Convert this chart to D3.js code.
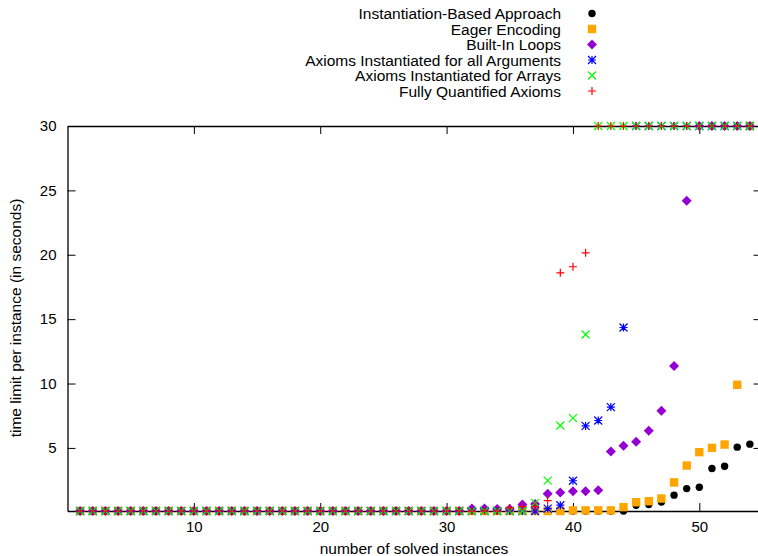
<!DOCTYPE html>
<html>
<head>
<meta charset="utf-8">
<script src="https://cdn.jsdelivr.net/npm/d3@7"></script>
<style>
  body { margin: 0; background: #fff; }
  text { font-family: "Liberation Sans", Arial, sans-serif; }
</style>
</head>
<body>
<script>
// number of solved instances (x) -> time limit per instance (y, seconds)
const instances = d3.range(1, 55);

const instantiationBased = [
  0.1, 0.1, 0.1, 0.1, 0.1, 0.1, 0.1, 0.1, 0.1, 0.1,
  0.1, 0.1, 0.1, 0.1, 0.1, 0.1, 0.1, 0.1, 0.1, 0.1,
  0.1, 0.1, 0.1, 0.1, 0.1, 0.1, 0.1, 0.1, 0.1, 0.1,
  0.1, 0.1, 0.1, 0.1, 0.1, 0.1, 0.1, 0.1, 0.1, 0.1,
  0.1, 0.1, 0.1, 0.1, 0.55, 0.6, 0.8, 1.33, 1.84, 1.95,
  3.4, 3.58, 5.06, 5.29
];
const eagerEncoding = [
  0.1, 0.1, 0.1, 0.1, 0.1, 0.1, 0.1, 0.1, 0.1, 0.1,
  0.1, 0.1, 0.1, 0.1, 0.1, 0.1, 0.1, 0.1, 0.1, 0.1,
  0.1, 0.1, 0.1, 0.1, 0.1, 0.1, 0.1, 0.1, 0.1, 0.1,
  0.1, 0.1, 0.1, 0.1, 0.1, 0.1, 0.1, 0.1, 0.1, 0.15,
  0.15, 0.15, 0.15, 0.4, 0.78, 0.86, 1.07, 2.32, 3.63, 4.67,
  5.0, 5.26, 9.9, 30
];
const builtInLoops = [
  0.1, 0.1, 0.1, 0.1, 0.1, 0.1, 0.1, 0.1, 0.1, 0.1,
  0.1, 0.1, 0.1, 0.1, 0.1, 0.1, 0.1, 0.1, 0.1, 0.1,
  0.1, 0.1, 0.1, 0.1, 0.1, 0.1, 0.1, 0.1, 0.1, 0.1,
  0.1, 0.29, 0.29, 0.25, 0.25, 0.6, 0.65, 1.43, 1.53, 1.64,
  1.64, 1.72, 4.72, 5.16, 5.47, 6.33, 7.88, 11.37, 24.2, 30,
  30, 30, 30, 30
];
const axiomsAllArgs = [
  0.1, 0.1, 0.1, 0.1, 0.1, 0.1, 0.1, 0.1, 0.1, 0.1,
  0.1, 0.1, 0.1, 0.1, 0.1, 0.1, 0.1, 0.1, 0.1, 0.1,
  0.1, 0.1, 0.1, 0.1, 0.1, 0.1, 0.1, 0.1, 0.1, 0.1,
  0.1, 0.1, 0.1, 0.1, 0.1, 0.1, 0.1, 0.29, 0.55, 2.45,
  6.71, 7.13, 8.17, 14.35, 30, 30, 30, 30, 30, 30,
  30, 30, 30, 30
];
const axiomsArrays = [
  0.1, 0.1, 0.1, 0.1, 0.1, 0.1, 0.1, 0.1, 0.1, 0.1,
  0.1, 0.1, 0.1, 0.1, 0.1, 0.1, 0.1, 0.1, 0.1, 0.1,
  0.1, 0.1, 0.1, 0.1, 0.1, 0.1, 0.1, 0.1, 0.1, 0.1,
  0.1, 0.1, 0.1, 0.1, 0.1, 0.1, 0.73, 2.46, 6.74, 7.31,
  13.81, 30, 30, 30, 30, 30, 30, 30, 30, 30,
  30, 30, 30, 30
];
const fullyQuantified = [
  0.1, 0.1, 0.1, 0.1, 0.1, 0.1, 0.1, 0.1, 0.1, 0.1,
  0.1, 0.1, 0.1, 0.1, 0.1, 0.1, 0.1, 0.1, 0.1, 0.1,
  0.1, 0.1, 0.1, 0.1, 0.1, 0.1, 0.1, 0.1, 0.1, 0.1,
  0.1, 0.1, 0.1, 0.1, 0.34, 0.45, 0.45, 0.91, 18.6, 19.07,
  20.15, 30, 30, 30, 30, 30, 30, 30, 30, 30,
  30, 30, 30, 30
];

const seriesNames = [
  "Instantiation-Based Approach",
  "Eager Encoding",
  "Built-In Loops",
  "Axioms Instantiated for all Arguments",
  "Axioms Instantiated for Arrays",
  "Fully Quantified Axioms"
];
const seriesValues = [instantiationBased, eagerEncoding, builtInLoops, axiomsAllArgs, axiomsArrays, fullyQuantified];
const seriesColors = ["#000000", "#ffa500", "#9400d3", "#0000ff", "#00ff00", "#ff0000"];
const seriesShapes = ["circle", "square", "diamond", "star", "cross", "plus"];

const xTicks = [10, 20, 30, 40, 50];
const yTicks = [5, 10, 15, 20, 25, 30];

const W = 758, H = 556;
const plotLeft = 67.5, plotRight = 762.5, plotTop = 126, plotBottom = 511;
const fontSize = 15.5;

const svg = d3.select("body").append("svg")
    .attr("width", W)
    .attr("height", H);

const x = d3.scaleLinear().domain([0, 55]).range([plotLeft, plotRight]);
const y = d3.scaleLinear().domain([0.1, 30]).range([plotBottom, plotTop]);

// axes with ticks on the inside, mirrored on top/right
function styleAxis(g) {
    g.select(".domain").attr("stroke", "#000").attr("stroke-width", 1.3);
    g.selectAll(".tick line").attr("stroke", "#000").attr("stroke-width", 1);
    g.selectAll("text").attr("font-size", 15).attr("fill", "#000")
        .style("font-family", "'Liberation Sans', Arial, sans-serif");
}

svg.append("g")
    .attr("transform", `translate(0,${plotBottom})`)
    .call(d3.axisBottom(x).tickValues(xTicks).tickSize(-8).tickSizeOuter(0).tickPadding(10))
    .call(styleAxis);
svg.append("g")
    .attr("transform", `translate(0,${plotTop})`)
    .call(d3.axisTop(x).tickValues(xTicks).tickSize(-8).tickSizeOuter(0).tickFormat(""))
    .call(styleAxis);
svg.append("g")
    .attr("transform", `translate(${plotLeft},0)`)
    .call(d3.axisLeft(y).tickValues(yTicks).tickSize(-8).tickSizeOuter(0).tickPadding(11))
    .call(styleAxis);
svg.append("g")
    .attr("transform", `translate(${plotRight - 1},0)`)
    .call(d3.axisRight(y).tickValues(yTicks).tickSize(-8).tickSizeOuter(0).tickFormat(""))
    .call(styleAxis);

// axis titles
svg.append("text")
    .attr("x", 414)
    .attr("y", 554)
    .attr("text-anchor", "middle")
    .attr("font-size", fontSize)
    .text("number of solved instances");

svg.append("text")
    .attr("transform", "translate(21,318) rotate(-90)")
    .attr("text-anchor", "middle")
    .attr("font-size", fontSize)
    .text("time limit per instance (in seconds)");

// point symbols, gnuplot style
function drawSymbol(g, shape, color, cx, cy) {
    if (shape === "circle") {
        g.append("circle").attr("cx", cx).attr("cy", cy).attr("r", 3.7).attr("fill", color);
    } else if (shape === "square") {
        g.append("rect").attr("x", cx - 4.2).attr("y", cy - 4.2)
            .attr("width", 8.4).attr("height", 8.4).attr("fill", color);
    } else if (shape === "diamond") {
        const s = 5;
        g.append("path")
            .attr("d", `M${cx},${cy - s}L${cx + s},${cy}L${cx},${cy + s}L${cx - s},${cy}Z`)
            .attr("fill", color);
    } else {
        const s = 4;
        let d = "";
        if (shape === "plus" || shape === "star") {
            d += `M${cx - s},${cy}H${cx + s}M${cx},${cy - s}V${cy + s}`;
        }
        if (shape === "cross" || shape === "star") {
            d += `M${cx - s},${cy - s}L${cx + s},${cy + s}M${cx - s},${cy + s}L${cx + s},${cy - s}`;
        }
        g.append("path").attr("d", d).attr("stroke", color)
            .attr("stroke-width", 1.2).attr("fill", "none");
    }
}

seriesValues.forEach((vals, i) => {
    const g = svg.append("g");
    vals.forEach((v, j) => {
        drawSymbol(g, seriesShapes[i], seriesColors[i], x(instances[j]), y(v));
    });
});

// legend
const legend = svg.append("g");
seriesNames.forEach((name, i) => {
    const cy = 13.5 + i * 15.5;
    legend.append("text")
        .attr("x", 561)
        .attr("y", cy + 5.5)
        .attr("text-anchor", "end")
        .attr("font-size", fontSize)
        .text(name);
    drawSymbol(legend, seriesShapes[i], seriesColors[i], 592, cy);
});
</script>
</body>
</html>
